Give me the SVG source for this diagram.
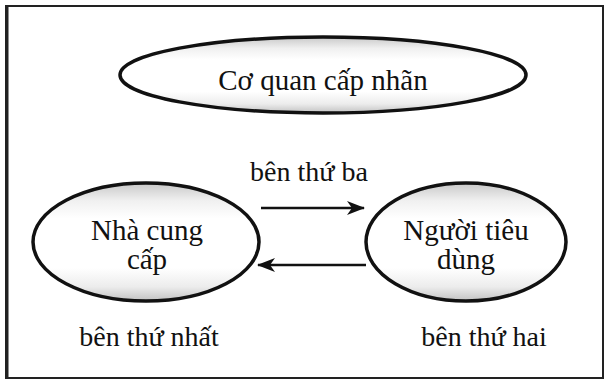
<svg xmlns="http://www.w3.org/2000/svg" width="607" height="387" viewBox="0 0 607 387">
<defs>
<style>
.t{font-family:"Liberation Serif","Times New Roman",serif;fill:#111;text-anchor:middle}
.node{stroke:#111;stroke-width:3.5;fill:url(#shade)}
.conn{stroke:#111;stroke-width:2.5;fill:none}
</style>
<linearGradient id="shade" x1="0" y1="0" x2="0" y2="1">
<stop offset="0" stop-color="#c8c8c8"/>
<stop offset="0.15" stop-color="#f0f0f0"/>
<stop offset="0.3" stop-color="#ffffff"/>
<stop offset="0.72" stop-color="#ffffff"/>
<stop offset="0.88" stop-color="#ececec"/>
<stop offset="1" stop-color="#c2c2c2"/>
</linearGradient>
<marker id="arr" viewBox="0 0 18 14" refX="17" refY="7" markerWidth="18" markerHeight="14" markerUnits="userSpaceOnUse" orient="auto">
<path d="M0,0 L18,7 L0,14 L5,7 Z" fill="#111"/>
</marker>
</defs>
<rect x="0" y="0" width="607" height="387" fill="#fff"/>
<g id="frame">
<rect x="6" y="6" width="597" height="372" fill="none" stroke="#222" stroke-width="2"/>
<line x1="7" y1="6" x2="7" y2="378" stroke="#222" stroke-width="3"/>
</g>
<g id="co-quan">
<ellipse class="node" cx="323" cy="75" rx="203" ry="38"/>
<text class="t" x="323" y="90" font-size="29">Cơ quan cấp nhãn</text>
</g>
<g id="nha-cung-cap">
<ellipse class="node" cx="146" cy="242" rx="113" ry="59"/>
<text class="t" x="147" y="240" font-size="29">Nhà cung</text>
<text class="t" x="147" y="269" font-size="29">cấp</text>
</g>
<g id="nguoi-tieu-dung">
<ellipse class="node" cx="466" cy="242" rx="100" ry="59"/>
<text class="t" x="466" y="240" font-size="29">Người tiêu</text>
<text class="t" x="466" y="269" font-size="29">dùng</text>
</g>
<g id="labels">
<text class="t" x="309" y="181" font-size="28">bên thứ ba</text>
<text class="t" x="149" y="346" font-size="28">bên thứ nhất</text>
<text class="t" x="484" y="346" font-size="28">bên thứ hai</text>
</g>
<g id="connectors">
<line class="conn" x1="261" y1="208" x2="364" y2="208" marker-end="url(#arr)"/>
<line class="conn" x1="366" y1="265" x2="258" y2="265" marker-end="url(#arr)"/>
</g>
</svg>
